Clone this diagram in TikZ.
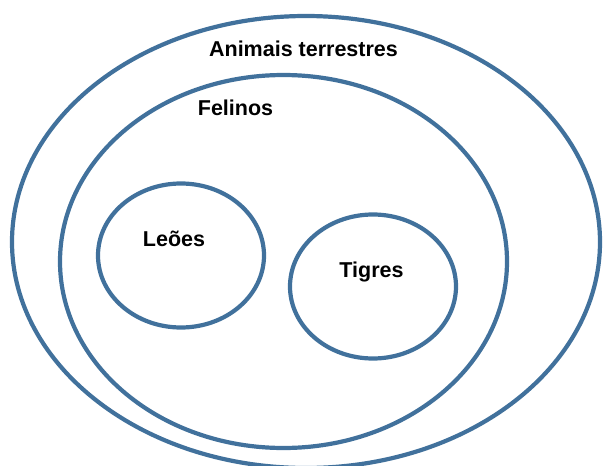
\documentclass[tikz,border=0pt]{standalone}
\usepackage{fontspec}
\setmainfont{Liberation Sans}
\usetikzlibrary{shapes.geometric}
\definecolor{setblue}{HTML}{41719C}
\begin{document}
\begin{tikzpicture}[x=1pt,y=-1pt,
  setshape/.style={ellipse,draw=setblue,line width=4.2pt,inner sep=0pt},
  setlabel/.style={anchor=base,inner sep=0pt,font=\fontsize{21.5}{24}\selectfont\bfseries}]
\useasboundingbox (0,0) rectangle (603,466);
\node[setshape,minimum width=588pt,minimum height=452pt] (terr) at (306,242) {};
\node[setshape,minimum width=447pt,minimum height=373pt] (fel) at (283.5,261.5) {};
\node[setshape,minimum width=166pt,minimum height=144pt] (leo) at (181,255.5) {};
\node[setshape,minimum width=166pt,minimum height=144pt] (tig) at (373,286.5) {};
\node[setlabel] (lterr) at (303.5,56) {Animais terrestres};
\node[setlabel] (lfel) at (235.5,115) {Felinos};
\node[setlabel] (lleo) at (174,246) {Leões};
\node[setlabel] (ltig) at (371.5,277) {Tigres};
\end{tikzpicture}
\end{document}
